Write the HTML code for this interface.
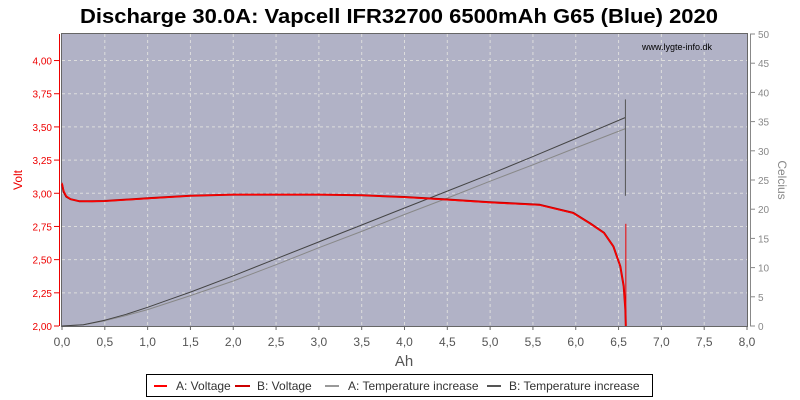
<!DOCTYPE html>
<html><head><meta charset="utf-8"><style>
body{margin:0;background:#fff;font-family:"Liberation Sans",sans-serif}
svg{display:block}
</style></head><body>
<svg id="c" width="800" height="400" xmlns="http://www.w3.org/2000/svg">
<text x="80" y="23" textLength="638" lengthAdjust="spacingAndGlyphs" font-size="20" font-weight="bold" fill="#000">Discharge 30.0A: Vapcell IFR32700 6500mAh G65 (Blue) 2020</text>
<rect x="62" y="34" width="685" height="292" fill="#b1b2c6"/>
<g id="grid"></g>
<g id="axes"></g>
<g id="series"></g>
<text x="712" y="50" text-anchor="end" font-size="9" fill="#000">www.lygte-info.dk</text>
<text transform="translate(22,180) rotate(-90)" text-anchor="middle" font-size="12" fill="#e00">Volt</text>
<text transform="translate(778,180) rotate(90)" text-anchor="middle" font-size="12" fill="#888">Celcius</text>
<text x="404" y="366" text-anchor="middle" font-size="15" fill="#555">Ah</text>
<g>
<rect x="146.5" y="374.5" width="506" height="22" fill="#fff" stroke="#000"/>
<line x1="154" y1="386" x2="167" y2="386" stroke="#f00" stroke-width="2"/>
<text x="176" y="390" font-size="12" fill="#333">A: Voltage</text>
<line x1="235" y1="386" x2="250" y2="386" stroke="#c00" stroke-width="2"/>
<text x="257" y="390" font-size="12" fill="#333">B: Voltage</text>
<line x1="325" y1="386" x2="339" y2="386" stroke="#999" stroke-width="2"/>
<text x="348" y="390" font-size="12" fill="#333">A: Temperature increase</text>
<line x1="487" y1="386" x2="501" y2="386" stroke="#555" stroke-width="2"/>
<text x="509" y="390" font-size="12" fill="#333">B: Temperature increase</text>
</g>
</svg>
<script>
const xTicks=[0,0.5,1,1.5,2,2.5,3,3.5,4,4.5,5,5.5,6,6.5,7,7.5,8];
const vTicks=[2.0,2.25,2.5,2.75,3.0,3.25,3.5,3.75,4.0];
const tTicks=[0,5,10,15,20,25,30,35,40,45,50];
const vAh=[0,0.02,0.05,0.1,0.2,0.35,0.5,1.0,1.5,2.0,2.5,3.0,3.5,4.0,4.5,5.0,5.58,5.97,6.17,6.33,6.44,6.52,6.56,6.58,6.585];
const vA=[3.08,3.02,2.98,2.955,2.94,2.938,2.94,2.96,2.98,2.99,2.99,2.99,2.985,2.97,2.95,2.93,2.91,2.85,2.77,2.70,2.60,2.45,2.30,2.12,2.0];
const vB=[3.07,3.01,2.975,2.955,2.94,2.94,2.942,2.962,2.982,2.99,2.99,2.99,2.985,2.972,2.953,2.933,2.913,2.852,2.772,2.702,2.60,2.45,2.30,2.12,2.0];
const tAh=[0,0.25,0.5,0.75,1.0,1.25,1.5,2.0,2.5,3.0,3.5,4.0,4.5,5.0,5.5,6.0,6.58];
const tA=[0,0.2,0.9,1.8,2.8,4.0,5.2,7.7,10.5,13.4,16.2,19.1,21.9,24.8,27.6,30.5,33.8];
const tB=[0,0.2,1.0,2.0,3.2,4.5,5.8,8.6,11.5,14.4,17.3,20.2,23.1,26.0,29.0,32.1,35.7];
const X0=62,X1=747,Y0=326,Y1=34;
const sx=v=>X0+v/8*(X1-X0);
const sv=v=>Y0-(v-2)/2.2*(Y0-Y1);
const st=v=>Y0-v/50*(Y0-Y1);
const NS="http://www.w3.org/2000/svg";
function mk(p,t,a){const e=document.createElementNS(NS,t);for(const k in a)e.setAttribute(k,a[k]);document.getElementById(p).appendChild(e);return e;}
xTicks.forEach(v=>{
 if(v>0&&v<8){const l=mk('grid','line',{x1:sx(v),x2:sx(v),y1:Y1,y2:Y0,stroke:'#ddd','stroke-dasharray':'3,3'});
 
 }
 const t=mk('axes','text',{x:sx(v),y:Y0+20,'text-anchor':'middle','font-size':12,fill:'#555'});
 t.textContent=v.toFixed(1).replace('.',',');
 
 
 mk('axes','line',{x1:sx(v),x2:sx(v),y1:Y0,y2:Y0+4,stroke:'#666'});
});
vTicks.forEach(v=>{
 if(v>2){const l=mk('grid','line',{x1:X0,x2:X1,y1:sv(v),y2:sv(v),stroke:'#ddd','stroke-dasharray':'3,3'});
 
 }
 const t=mk('axes','text',{x:52,y:sv(v)+4,'text-anchor':'end','font-size':10,fill:'#e00'});
 t.textContent=v.toFixed(2).replace('.',',');
 
 
 mk('axes','line',{x1:54,x2:59,y1:sv(v),y2:sv(v),stroke:'#e00'});
});
tTicks.forEach(v=>{
 const t=mk('axes','text',{x:758,y:st(v)+4,'font-size':10,fill:'#888'});
 t.textContent=v;
 
 
 mk('axes','line',{x1:750,x2:755,y1:st(v),y2:st(v),stroke:'#888'});
});
mk('axes','line',{x1:59.5,x2:59.5,y1:Y1,y2:Y0,stroke:'#e00'});
mk('axes','line',{x1:750.5,x2:750.5,y1:Y1,y2:Y0,stroke:'#888'});
mk('axes','rect',{x:X0-0.5,y:Y1-0.5,width:X1-X0+1,height:Y0-Y1+1,fill:'none',stroke:'#666'});
function line(xs,ys,f,col,w,name){
 const d=xs.map((x,i)=>(i?'L':'M')+sx(x).toFixed(1)+','+f(ys[i]).toFixed(1)).join('');
 const p=mk('series','path',{d:d,fill:'none',stroke:col,'stroke-width':w,'stroke-linejoin':'round'});
 
 
}
line(tAh,tA,st,'#888',1,'series-a-temperature');
line(tAh,tB,st,'#444',1,'series-b-temperature');
const tl=mk('series','line',{x1:sx(6.58),x2:sx(6.58),y1:st(22.3),y2:st(38.8),stroke:'#555'});


line(vAh,vB,sv,'#b00',2,'series-b-voltage');
line(vAh,vA,sv,'#f00',1.2,'series-a-voltage');
const vl=mk('series','line',{x1:sx(6.585),x2:sx(6.585),y1:sv(2.0),y2:sv(2.77),stroke:'#e00'});


</script>
</body></html>
